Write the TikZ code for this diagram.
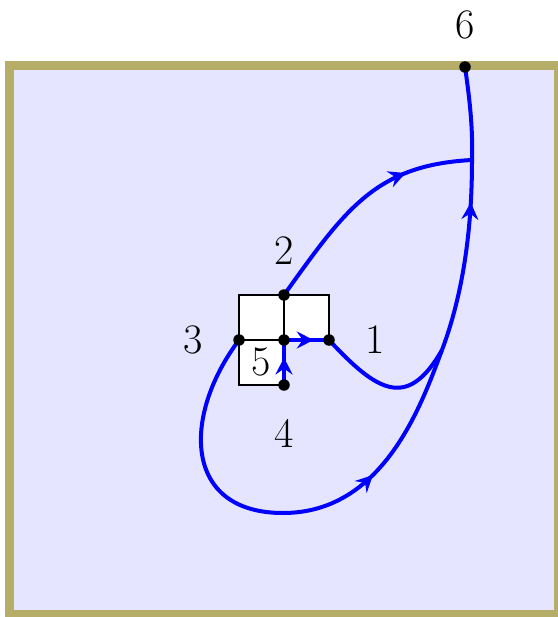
\documentclass[tikz,border=0pt]{standalone}
\usetikzlibrary{arrows.meta,decorations.markings}
\definecolor{frameolive}{RGB}{181,173,104}
\definecolor{bgblue}{RGB}{229,229,255}
\begin{document}
\begin{tikzpicture}[x=1pt,y=-1pt,
  flow/.style={blue, line width=4pt},
  midarr/.style={postaction={decorate}, decoration={markings,
     mark=at position #1 with {\arrow{Stealth[length=17pt,width=17pt,inset=6pt]}}}},
  cell/.style={draw=black, fill=white, line width=2pt},
  dot/.style={circle, fill=black, inner sep=0pt, minimum size=11.5pt},
  lab/.style={font=\fontsize{42}{50}\selectfont, inner sep=0pt}]
\useasboundingbox (0,0) rectangle (557,617);
\draw[frameolive, line width=9pt, fill=bgblue] (9.5,66) rectangle (558.5,614.5);
% grid cells
\draw[cell] (239,295) rectangle (284,340);
\draw[cell] (284,295) rectangle (329,340);
\draw[cell] (239,340) rectangle (284,385);
% points
\coordinate (c1) at (329,340);
\coordinate (c2) at (284,295);
\coordinate (c3) at (239,340);
\coordinate (c4) at (284,385);
\coordinate (c5) at (284,340);
\coordinate (c6) at (465,67);
\coordinate (J) at (442,350);
\coordinate (Q) at (472,160);
\coordinate (B) at (283,513);
% curves
\draw[flow, midarr=0.61] (c4) -- (c5);
\draw[flow, midarr=0.66] (c5) -- (c1);
\draw[flow, midarr=0.72] (c2) .. controls (345,210) and (375,165) .. (Q);
\draw[flow] (c3) .. controls (182,416) and (183,513) .. (B);
\draw[flow, midarr=0.41] (B) .. controls (383,513) and (421,406) .. (J);
\draw[flow, midarr=0.78] (J) .. controls (463,294) and (472,230) .. (Q);
\draw[flow] (Q) .. controls (473,125) and (469,95) .. (c6);
\draw[flow] (c1) .. controls (376.6,391) and (407,411) .. (J);
% dots
\node[dot] (d1) at (c1) {};
\node[dot] (d2) at (c2) {};
\node[dot] (d3) at (c3) {};
\node[dot] (d4) at (c4) {};
\node[dot] (d5) at (c5) {};
\node[dot] (d6) at (c6) {};
% labels
\node[lab] (l1) at (375,340) {1};
\node[lab] (l2) at (284,250.5) {2};
\node[lab] (l3) at (193,340) {3};
\node[lab] (l4) at (284.5,433) {4};
\node[lab] (l5) at (261.5,362) {5};
\node[lab] (l6) at (465.5,25) {6};
\end{tikzpicture}
\end{document}
